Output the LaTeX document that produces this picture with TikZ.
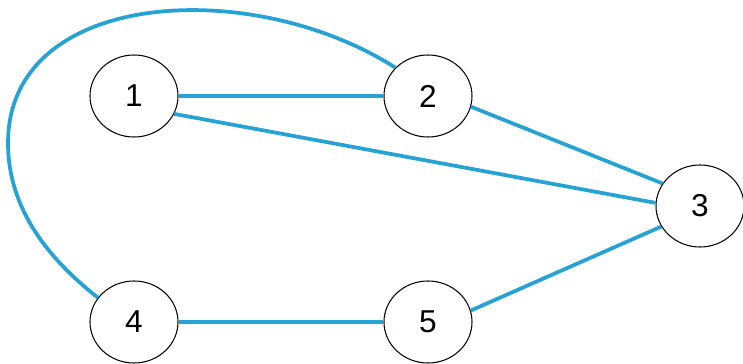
\documentclass[tikz,border=0pt]{standalone}
\usepackage{fontspec}
\setmainfont{Liberation Sans}
\usepackage{tikz}
\usetikzlibrary{shapes.geometric}
\definecolor{edgeblue}{RGB}{38,162,212}

\begin{document}
\begin{tikzpicture}[x=0.03cm, y=-0.03cm,
  vtx/.style={draw, ellipse, line width=0.9pt, inner sep=0pt,
              minimum width=2.64cm, minimum height=2.46cm,
              font=\fontsize{27}{32}\selectfont},
  edge/.style={line width=3.2pt, color=edgeblue}]
  \useasboundingbox (0,0) rectangle (743,364);

  %% vertices
  \node[vtx] (n1) at (134,96)  {1};
  \node[vtx] (n2) at (428,96)  {2};
  \node[vtx] (n3) at (700,206) {3};
  \node[vtx] (n4) at (134,322) {4};
  \node[vtx] (n5) at (428,322) {5};
  \coordinate (loopleft) at (8,143);

  %% edges
  \draw[edge] (n1) -- (n2);
  \draw[edge] (n1.-24) -- (n3.176);
  \draw[edge] (n2.-14) -- (n3.149);
  \draw[edge] (n5.15)  -- (n3.208);
  \draw[edge] (n4) -- (n5);
  \draw[edge] (n2.139) .. controls (250,-25) and (8,-10) .. (loopleft)
              .. controls (8,210) and (50,260) .. (n4.146);
\end{tikzpicture}
\end{document}
